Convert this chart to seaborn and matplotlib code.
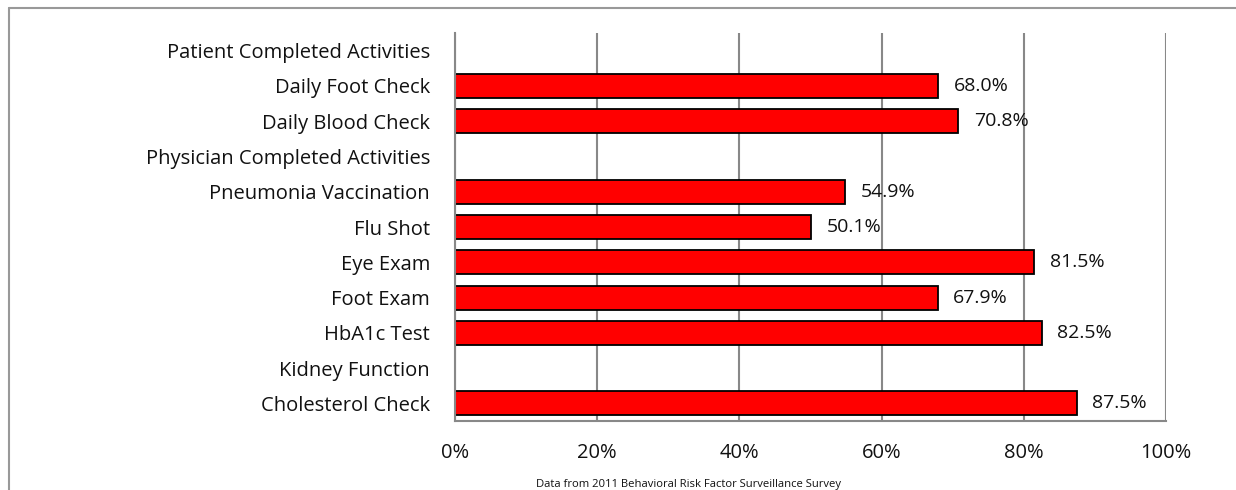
import numpy as np
import pandas as pd
import seaborn as sns
import matplotlib.pyplot as plt
from matplotlib.lines import Line2D

# all rows on the y axis, top to bottom (headers have no bar)
categories = ["Patient Completed Activities", "Daily Foot Check", "Daily Blood Check",
              "Physician Completed Activities", "Pneumonia Vaccination", "Flu Shot",
              "Eye Exam", "Foot Exam", "HbA1c Test", "Kidney Function", "Cholesterol Check"]
bar_labels = ["Daily Foot Check", "Daily Blood Check", "Pneumonia Vaccination", "Flu Shot",
              "Eye Exam", "Foot Exam", "HbA1c Test", "Cholesterol Check"]
bar_values = [68.0, 70.8, 54.9, 50.1, 81.5, 67.9, 82.5, 87.5]
x_ticks = [0, 20, 40, 60, 80, 100]
footer = "Data from 2011 Behavioral Risk Factor Surveillance Survey"

sns.set_style("white")
plt.rcParams['font.family'] = ['Open Sans', 'DejaVu Sans']

df = pd.DataFrame({"activity": bar_labels, "pct": bar_values})

W, H = 1236, 490
fig = plt.figure(figsize=(W / 100, H / 100), dpi=100)
ax = fig.add_axes([455 / W, 1 - 421 / H, (1166 - 455) / W, (421 - 33) / H])

sns.barplot(data=df, x="pct", y="activity", order=categories, orient="h",
            color="#ff0000", saturation=1, edgecolor="black", linewidth=1.3,
            width=0.68, ax=ax)

ax.set_xlim(0, 100)
ax.set_xticks(x_ticks)
ax.set_xticklabels([f"{t}%" for t in x_ticks], fontsize=14.5, color="#111111")
ax.tick_params(axis="x", length=6, width=1.2, color="#888888", pad=10)
ax.tick_params(axis="y", length=0, pad=18, labelsize=14.5, labelcolor="#111111")
ax.set_xlabel("")
ax.set_ylabel("")
ax.xaxis.grid(True, color="#888888", linewidth=1.5)
ax.set_axisbelow(True)
for side in ["top", "right"]:
    ax.spines[side].set_visible(False)
for side in ["left", "bottom"]:
    ax.spines[side].set_color("#888888")
    ax.spines[side].set_linewidth(1.5)

ax.bar_label(ax.containers[0], labels=[f"{v:.1f}%" for v in bar_values],
             padding=11, fontsize=14, color="#111111")

fig.text(688 / W, 1 - 484 / H, footer, ha="center", va="center", fontsize=8.1,
         color="#111111")

# chart border: only top and left edges are inside the image
x0, y0 = 8.5 / W, 1 - 8.5 / H
fig.add_artist(Line2D([x0, 1.0], [y0, y0], transform=fig.transFigure,
                      color="#999999", linewidth=1.5))
fig.add_artist(Line2D([x0, x0], [0.0, y0], transform=fig.transFigure,
                      color="#999999", linewidth=1.5))

fig.savefig("out.png", dpi=100)
